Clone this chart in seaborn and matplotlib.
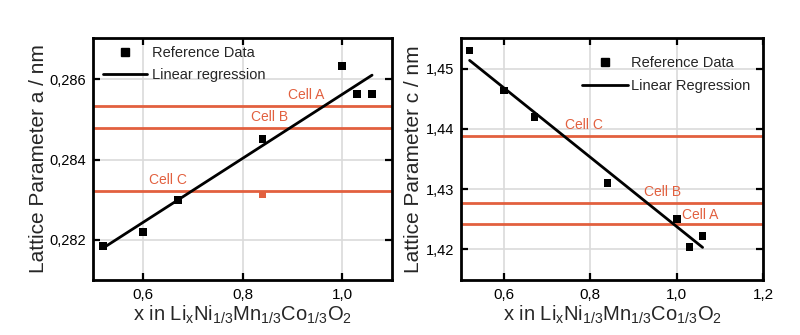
import numpy as np
import pandas as pd
import matplotlib
matplotlib.use("Agg")
import matplotlib.pyplot as plt
import seaborn as sns
from matplotlib.lines import Line2D

# ---------------- data ----------------
x_li = [0.52, 0.60, 0.67, 0.84, 1.00, 1.03, 1.06]
a_ref = [0.28185, 0.28220, 0.28300, 0.28452, 0.28633, 0.28563, 0.28563]
c_ref = [1.4530, 1.4464, 1.4420, 1.4310, 1.4250, 1.4204, 1.4222]
a_extra_x = [0.84]
a_extra_y = [0.28313]

cell_names = ["Cell A", "Cell B", "Cell C"]
a_cells = [0.28533, 0.28479, 0.28322]
c_cells = [1.42425, 1.42773, 1.43884]

a_xticks = [0.6, 0.8, 1.0]
a_xticklabels = ["0,6", "0,8", "1,0"]
a_yticks = [0.282, 0.284, 0.286]
a_yticklabels = ["0,282", "0,284", "0,286"]
c_xticks = [0.6, 0.8, 1.0, 1.2]
c_xticklabels = ["0,6", "0,8", "1,0", "1,2"]
c_yticks = [1.42, 1.43, 1.44, 1.45]
c_yticklabels = ["1,42", "1,43", "1,44", "1,45"]

# label placement (layout only)
a_label_x = [0.928, 0.855, 0.651]
c_label_x = [1.054, 0.968, 0.784]
c_label_dy = [1.0, 2.5, 3.0]
a_label_dy = [3.0, 3.0, 3.0]

RED = "#e2603f"
GRID = "#dadada"

sns.set_theme(style="white")
plt.rcParams["font.family"] = ["Liberation Sans", "DejaVu Sans"]
plt.rcParams["mathtext.default"] = "regular"

fig = plt.figure(figsize=(8.0, 3.35), dpi=100)
ax1 = fig.add_axes([93 / 800, 1 - 280 / 335, 299 / 800, 242 / 335])
ax2 = fig.add_axes([461 / 800, 1 - 280 / 335, 302 / 800, 242 / 335])

df_a = pd.DataFrame({"x": x_li, "y": a_ref})
df_c = pd.DataFrame({"x": x_li, "y": c_ref})


def style_axes(ax, xlim, ylim, xt, xtl, yt, ytl):
    ax.set_xlim(*xlim)
    ax.set_ylim(*ylim)
    ax.set_xticks(xt, xtl)
    ax.set_yticks(yt, ytl)
    ax.grid(True, color=GRID, linewidth=1.2, zorder=0)
    ax.set_axisbelow(True)
    for s in ax.spines.values():
        s.set_color("black")
        s.set_linewidth(2.0)
        s.set_visible(True)
    ax.tick_params(direction="in", length=5, width=1.6, top=True, right=True,
                   bottom=True, left=True, labeltop=False, labelright=False,
                   labelsize=10.5, colors="black", pad=5)
    ax.tick_params(axis="x", labelsize=11, pad=6)


xlabel = r"x in Li$_x$Ni$_{1/3}$Mn$_{1/3}$Co$_{1/3}$O$_2$"

# ---------------- left panel ----------------
for y, name, lx, dy in zip(a_cells, cell_names, a_label_x, a_label_dy):
    ax1.axhline(y, color=RED, linewidth=2.0, zorder=2)
    ax1.annotate(name, (lx, y), xytext=(0, dy), textcoords="offset points",
                 ha="center", va="bottom", color=RED, fontsize=10)
sns.regplot(data=df_a, x="x", y="y", ax=ax1, scatter=False, ci=None, truncate=True,
            line_kws=dict(color="black", linewidth=2.0, zorder=3))
sns.scatterplot(data=df_a, x="x", y="y", ax=ax1, marker="s", s=30, color="black",
                edgecolor="none", zorder=4)
sns.scatterplot(x=a_extra_x, y=a_extra_y, ax=ax1, marker="s", s=30, color=RED,
                edgecolor="none", zorder=4)
style_axes(ax1, (0.5, 1.1), (0.281, 0.28703), a_xticks, a_xticklabels,
           a_yticks, a_yticklabels)
ax1.set_xlabel(xlabel, fontsize=14.5, labelpad=1)
ax1.set_ylabel("Lattice Parameter a / nm", fontsize=15, labelpad=1)

handles = [Line2D([], [], marker="s", linestyle="none", color="black", markersize=5.5),
           Line2D([], [], color="black", linewidth=2.0)]
ax1.legend(handles, ["Reference Data", "Linear regression"], loc="upper left",
           bbox_to_anchor=(0.035, 0.965), frameon=False, fontsize=10.5,
           handlelength=3.0, handletextpad=0.3, labelspacing=0.5,
           borderpad=0, borderaxespad=0)

# ---------------- right panel ----------------
for y, name, lx, dy in zip(c_cells, cell_names, c_label_x, c_label_dy):
    ax2.axhline(y, color=RED, linewidth=2.0, zorder=2)
    ax2.annotate(name, (lx, y), xytext=(0, dy), textcoords="offset points",
                 ha="center", va="bottom", color=RED, fontsize=10)
sns.regplot(data=df_c, x="x", y="y", ax=ax2, scatter=False, ci=None, truncate=True,
            line_kws=dict(color="black", linewidth=2.0, zorder=3))
sns.scatterplot(data=df_c, x="x", y="y", ax=ax2, marker="s", s=30, color="black",
                edgecolor="none", zorder=4)
style_axes(ax2, (0.5, 1.2), (1.4149, 1.4551), c_xticks, c_xticklabels,
           c_yticks, c_yticklabels)
ax2.set_xlabel(xlabel, fontsize=14.5, labelpad=1)
ax2.set_ylabel("Lattice Parameter c / nm", fontsize=15, labelpad=2)
ax2.legend(handles, ["Reference Data", "Linear Regression"], loc="upper left",
           bbox_to_anchor=(0.40, 0.925), frameon=False, fontsize=10.5,
           handlelength=3.2, handletextpad=0.2, labelspacing=0.6,
           borderpad=0, borderaxespad=0)

fig.savefig("out.png", dpi=100, facecolor="white")
